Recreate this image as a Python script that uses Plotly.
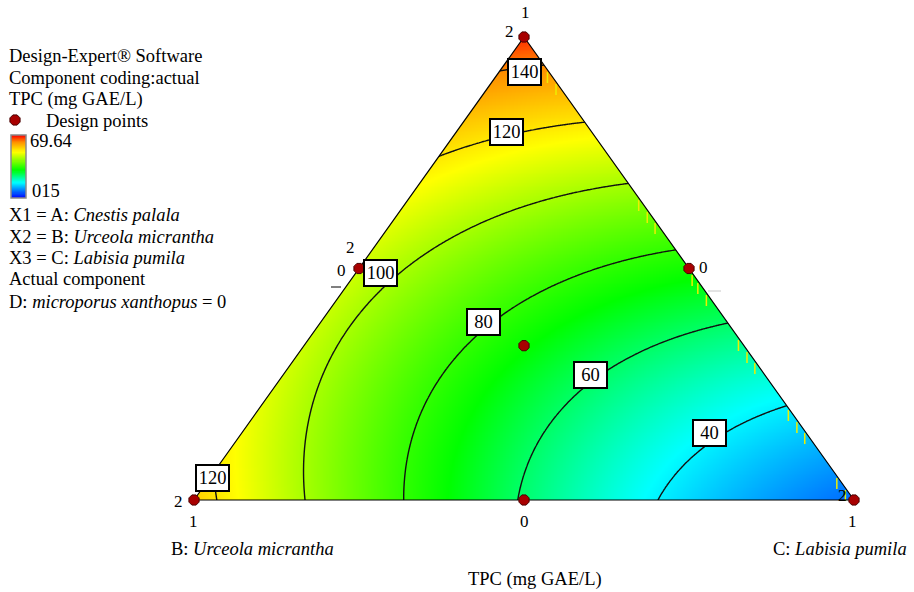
import numpy as np
import plotly.graph_objects as go

W, H = 914, 592
FONT = "Liberation Serif"

# Special-cubic Scheffé model for TPC (mg GAE/L); component D held at 0
model_terms = ["A", "B", "C", "AB", "AC", "BC", "ABC"]
model_coefs = [150.3, 125.5, 20.5, -125.0, -42.8, -56.0, -32.0]

contour_levels = [40, 60, 80, 100, 120, 140]

# Simplex-centroid design points, as fractions of A, B and C
design_A = [1.0, 0.0, 0.0, 0.5, 0.5, 0.0, 1 / 3]
design_B = [0.0, 1.0, 0.0, 0.5, 0.0, 0.5, 1 / 3]
design_C = [0.0, 0.0, 1.0, 0.0, 0.5, 0.5, 1 / 3]

colorbar_labels = ["69.64", "015"]

# ---------------------------------------------------------------- geometry
# Triangle drawn with B at (0,0), C at (1,0), A at (0.5,1)
def to_xy(a, c):
    a = np.asarray(a, dtype=float)
    c = np.asarray(c, dtype=float)
    return c + a / 2.0, a


def tpc(a, b, c):
    k = dict(zip(model_terms, model_coefs))
    return (k["A"] * a + k["B"] * b + k["C"] * c
            + k["AB"] * a * b + k["AC"] * a * c + k["BC"] * b * c
            + k["ABC"] * a * b * c)


# pixel frame of the triangle inside the page
BX, CX, BASE_Y, APEX_Y = 194, 854, 500, 37
SX = CX - BX
SY = BASE_Y - APEX_Y
x_range = [-BX / SX, (W - BX) / SX]
y_range = [-(H - BASE_Y) / SY, BASE_Y / SY]


def page_to_xy(x, y):
    return (x - BX) / SX, (BASE_Y - y) / SY


# ---------------------------------------------------------------- surface
xs = np.linspace(0, 1, 441)
ys = np.linspace(0, 1, 321)
XX, YY = np.meshgrid(xs, ys)
A = YY
C = XX - YY / 2
B = 1 - A - C
Z = tpc(A, B, C)

zmin, zmax = 5.0, 155.0
stops = [(5, "#0000ff"), (42, "#00ffff"), (72, "#00ff00"),
         (115, "#ffff00"), (140, "#ff8c00"), (155, "#ff0000")]
colorscale = [[(v - zmin) / (zmax - zmin), col] for v, col in stops]

fig = go.Figure()

fig.add_trace(go.Contour(
    x=xs, y=ys, z=Z, zmin=zmin, zmax=zmax, colorscale=colorscale,
    contours=dict(coloring="heatmap", start=contour_levels[0],
                  end=contour_levels[-1], size=20, showlines=True),
    line=dict(color="#111111", width=1.4),
    hoverinfo="skip", showlegend=False, showscale=False,
))

# white cover outside the simplex
m = 0.06
mask_x = [0, 0.5, 0.5, -m, -m, 0, None,
          1, 0.5, 0.5, 1 + m, 1 + m, 1, None,
          -m, 1 + m, 1 + m, -m, -m]
mask_y = [0, 1, 1 + m, 1 + m, -m, -m, None,
          0, 1, 1 + m, 1 + m, -m, -m, None,
          0, 0, -m, -m, 0]
fig.add_trace(go.Scatter(x=mask_x, y=mask_y, mode="lines", fill="toself",
                         fillcolor="white", line=dict(width=0),
                         hoverinfo="skip", showlegend=False))

# short yellow marks along the A-C edge (fractions of A)
edge_marks_a = [0.9244, 0.8985, 0.6479, 0.622, 0.5983, 0.486, 0.4687,
                0.4428, 0.3456, 0.3197, 0.2959, 0.1944, 0.1685, 0.1447,
                0.0475, 0.0216]
mk_len = 11 / SY
ex, ey = [], []
for a in edge_marks_a:
    x0, y0 = to_xy(a, 1 - a)
    ex += [float(x0) - 1.5 / SX, float(x0) - 1.5 / SX, None]
    ey += [float(y0), float(y0) - mk_len, None]
fig.add_trace(go.Scatter(x=ex, y=ey, mode="lines",
                         line=dict(color="#eeee00", width=1.5),
                         hoverinfo="skip", showlegend=False))

# simplex outline
tx, ty = to_xy([0, 1, 0, 0], [0, 0, 1, 0])
fig.add_trace(go.Scatter(x=tx, y=ty, mode="lines",
                         line=dict(color="black", width=1.2),
                         hoverinfo="skip", showlegend=False,
                         cliponaxis=False))

point_marker = dict(symbol="octagon", size=11, color="#a80000",
                    line=dict(color="#4a0000", width=1))

# design points
dx, dy = to_xy(design_A, design_C)
fig.add_trace(go.Scatter(
    x=dx, y=dy, mode="markers", name="Design points", marker=point_marker,
    cliponaxis=False, showlegend=False, hoverinfo="skip"))

# key symbol for the "Design points" entry of the side panel
kx, ky = page_to_xy(15, 120)
fig.add_trace(go.Scatter(
    x=[kx], y=[ky], mode="markers", marker=point_marker,
    cliponaxis=False, showlegend=False, hoverinfo="skip"))

# colour key of the side panel (own small axes)
key_vals = np.linspace(zmin, zmax, 120).reshape(-1, 1)
fig.add_trace(go.Heatmap(
    z=key_vals, x=[0], y=np.arange(120), colorscale=colorscale,
    zmin=zmin, zmax=zmax, showscale=False, hoverinfo="skip",
    xaxis="x2", yaxis="y2", zsmooth="best"))

# ---------------------------------------------------------------- labels
annotations = []


def text(t, x, y, size=18.5, xanchor="left", color="black"):
    annotations.append(dict(
        x=x / W, y=1 - y / H, xref="paper", yref="paper", text=t,
        showarrow=False, xanchor=xanchor, yanchor="middle",
        font=dict(family=FONT, size=size, color=color)))


legend_lines = [
    ("Design-Expert® Software", 56),
    ("Component coding:actual", 78),
    ("TPC (mg GAE/L)", 100),
    ("X1 = A: <i>Cnestis palala</i>", 215),
    ("X2 = B: <i>Urceola micrantha</i>", 237),
    ("X3 = C: <i>Labisia pumila</i>", 258),
    ("Actual component", 279),
    ("D: <i>microporus xanthopus</i> = 0", 302),
]
for t, y in legend_lines:
    text(t, 7, y)
text("Design points", 44, 121)
text(colorbar_labels[0], 28, 141)
text(colorbar_labels[1], 30, 191)

# boxed contour values, sitting on their contour lines
label_spots = [(140, 0.500, 0.9244), (120, 0.4742, 0.7948),
               (100, 0.2833, 0.4903), (80, 0.4379, 0.3844),
               (60, 0.6015, 0.2700), (40, 0.7818, 0.1447),
               (120, 0.0273, 0.0475)]
for lev, lx, ly in label_spots:
    annotations.append(dict(
        x=lx, y=ly, xref="x", yref="y", text=str(lev), showarrow=False,
        xanchor="center", yanchor="middle", bgcolor="white",
        bordercolor="black", borderwidth=2, borderpad=1.5,
        width=28, height=21, align="center", valign="middle",
        font=dict(family=FONT, size=18.5, color="black")))

# replicate counts and vertex values
for t, x, y in [("1", 525, 12), ("2", 509, 31), ("2", 178, 501),
                ("1", 193, 521), ("0", 524, 521), ("1", 852, 521),
                ("2", 350, 247), ("0", 341, 270), ("0", 703, 268),
                ("2", 842, 495)]:
    text(t, x, y, size=17, xanchor="center")

text("B: <i>Urceola micrantha</i>", 169, 549)
text("C: <i>Labisia pumila</i>", 771, 549)
text("TPC (mg GAE/L)", 535, 579, xanchor="center")

shapes = [
    dict(type="line", xref="paper", yref="paper",
         x0=331 / W, x1=341 / W, y0=1 - 287 / H, y1=1 - 287 / H,
         line=dict(color="black", width=1)),
    dict(type="line", xref="paper", yref="paper",
         x0=708 / W, x1=721 / W, y0=1 - 291 / H, y1=1 - 291 / H,
         line=dict(color="#c8c8c8", width=1)),
    dict(type="rect", xref="paper", yref="paper",
         x0=11 / W, x1=26 / W, y0=1 - 198 / H, y1=1 - 135 / H,
         line=dict(color="#8a8a8a", width=1.5)),
]

fig.update_layout(
    width=W, height=H, margin=dict(l=0, r=0, t=0, b=0),
    paper_bgcolor="white", plot_bgcolor="white",
    xaxis=dict(range=x_range, domain=[0, 1], visible=False,
               fixedrange=True),
    yaxis=dict(range=y_range, domain=[0, 1], visible=False,
               fixedrange=True),
    xaxis2=dict(domain=[11 / W, 26 / W], visible=False, fixedrange=True,
                anchor="y2"),
    yaxis2=dict(domain=[1 - 198 / H, 1 - 135 / H], visible=False,
                fixedrange=True, anchor="x2"),
    annotations=annotations, shapes=shapes,
    showlegend=False,
)

fig.write_html("out.html")
